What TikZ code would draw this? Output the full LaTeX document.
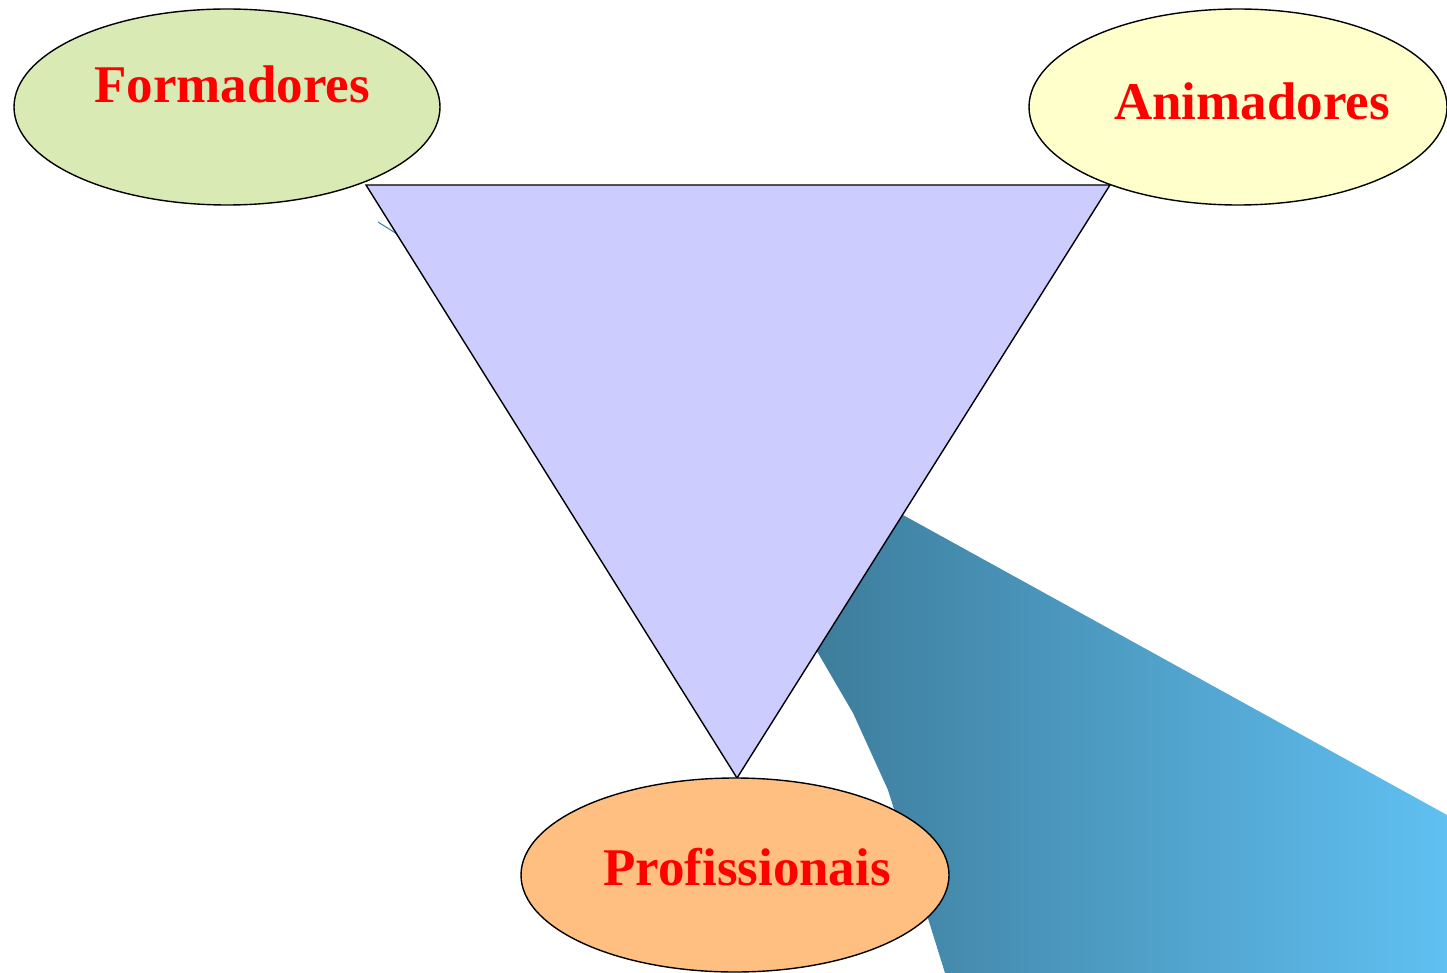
\documentclass[tikz,border=0pt]{standalone}
\usepackage{fontspec}
\setmainfont{Liberation Serif}
\usetikzlibrary{shapes.geometric}
\definecolor{greenfill}{RGB}{217,234,180}
\definecolor{yellowfill}{RGB}{255,255,204}
\definecolor{orangefill}{RGB}{255,191,128}
\definecolor{trifill}{RGB}{204,204,255}
\definecolor{bandleft}{RGB}{60,122,152}
\definecolor{bandright}{RGB}{96,192,242}
\definecolor{txtred}{RGB}{255,0,0}
\tikzset{
  bubble/.style={ellipse, draw=black, line width=1.4pt, minimum width=426pt, minimum height=196pt, inner sep=0pt},
  lbl/.style={anchor=base, text=txtred, font=\fontsize{53}{60}\selectfont\bfseries, inner sep=0pt},
}
\begin{document}
\begin{tikzpicture}[x=1pt,y=-1pt]
\useasboundingbox (0,0) rectangle (1447,973);
% faint stroke behind triangle
\draw[color=bandleft, line width=1pt] (378,222) -- (397,234);
% gradient band
\path[left color=bandleft, right color=bandright]
  (850,486) -- (903,515) -- (1447,815) -- (1447,973) -- (945,973)
  -- (888,790) -- (853,713) -- (818,653) -- (790,605) -- cycle;
% triangle
\coordinate (tl) at (366,185);
\coordinate (tr) at (1110,185);
\coordinate (tb) at (737,778);
\draw[fill=trifill, line width=1.4pt, line join=miter] (tl) -- (tr) -- (tb) -- cycle;
% ellipses
\node[bubble, fill=greenfill] (form) at (227,107) {};
\node[bubble, fill=yellowfill, minimum width=418pt] (anim) at (1238,107) {};
\node[bubble, fill=orangefill, minimum width=428pt, minimum height=194pt] (prof) at (735,875) {};
% labels
\node[lbl] (formt) at (232,103) {Formadores};
\node[lbl] (animt) at (1252,120) {Animadores};
\node[lbl] (proft) at (747,885) {Profissionais};
\end{tikzpicture}
\end{document}
